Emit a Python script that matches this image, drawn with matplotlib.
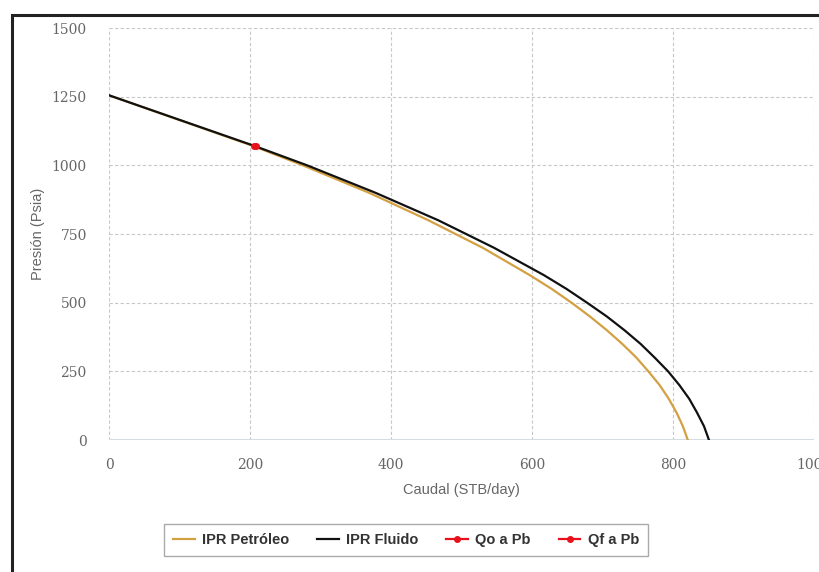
import matplotlib
matplotlib.use('Agg')
import matplotlib.pyplot as plt
from matplotlib.patches import Rectangle

# Values (caudal STB/day, presion psia)
q_oil = [0, 205, 275, 369, 453, 530, 597, 628, 656, 682, 706, 728, 748, 765, 781, 794, 805, 814, 821]
p_oil = [1255, 1070, 1000, 900, 800, 700, 600, 550, 500, 450, 400, 350, 300, 250, 200, 150, 100, 50, 0]

q_fluid = [0, 207, 281, 378, 467, 546, 617, 649, 678, 706, 731, 754, 774, 793, 809, 823, 834, 844, 851]
p_fluid = [1255, 1070, 1000, 900, 800, 700, 600, 550, 500, 450, 400, 350, 300, 250, 200, 150, 100, 50, 0]

qo_pb = [205]
qf_pb = [208]
pb = [1070]

x_ticks = [0, 200, 400, 600, 800, 1000]
y_ticks = [0, 250, 500, 750, 1000, 1250, 1500]

fig = plt.figure(figsize=(8.19, 5.72), dpi=100)
ax = fig.add_axes([109/819, 1 - 440/572, (814 - 109)/819, (440 - 28)/572])

ax.plot(q_oil, p_oil, color='#d3a042', lw=1.6, label='IPR Petróleo', zorder=3)
ax.plot(q_fluid, p_fluid, color='#111111', lw=1.6, label='IPR Fluido', zorder=4)
ax.plot(qo_pb, pb, color='#e8101a', marker='o', ms=4, lw=1.6, label='Qo a Pb', zorder=5)
ax.plot(qf_pb, pb, color='#e8101a', marker='o', ms=4, lw=1.6, label='Qf a Pb', zorder=5)

ax.set_xlim(0, 1000)
ax.set_ylim(0, 1500)
ax.set_xticks(x_ticks)
ax.set_yticks(y_ticks)
ax.set_xticklabels([str(v) for v in x_ticks], fontfamily='DejaVu Serif', fontsize=10, color='#666666')
ax.set_yticklabels([str(v) for v in y_ticks], fontfamily='DejaVu Serif', fontsize=10, color='#666666')
ax.tick_params(axis='x', length=0, pad=13)
ax.tick_params(axis='y', length=0, pad=16)

for s in ax.spines.values():
    s.set_visible(False)
ax.grid(True, color='#c8c8c8', ls=(0, (3, 2)), lw=0.8)
ax.axhline(0, color='#d3dde6', lw=1.5, zorder=2)

ax.set_xlabel('Caudal (STB/day)', fontfamily='Liberation Sans', fontsize=10.5, color='#666666', labelpad=8)
ax.set_ylabel('Presión (Psia)', fontfamily='Liberation Sans', fontsize=10.5, color='#666666', labelpad=5)

leg = fig.legend(loc='center', bbox_to_anchor=(406/819, 1 - 540/572), ncol=4,
                 prop={'family': 'Liberation Sans', 'weight': 'bold', 'size': 10.5},
                 handlelength=1.5, columnspacing=1.9, handletextpad=0.5,
                 fancybox=False, edgecolor='#aaaaaa', framealpha=1, borderpad=0.6)
leg.get_frame().set_linewidth(1.0)
for t in leg.get_texts():
    t.set_color('#333333')

# outer frame of the screenshot (left and top edges visible)
fig.patches.append(Rectangle((12/819, -0.1), 1.2, 1.1 - 15/572, transform=fig.transFigure,
                             fill=False, edgecolor='#222222', lw=2.2))

fig.savefig('out.png', dpi=100)
